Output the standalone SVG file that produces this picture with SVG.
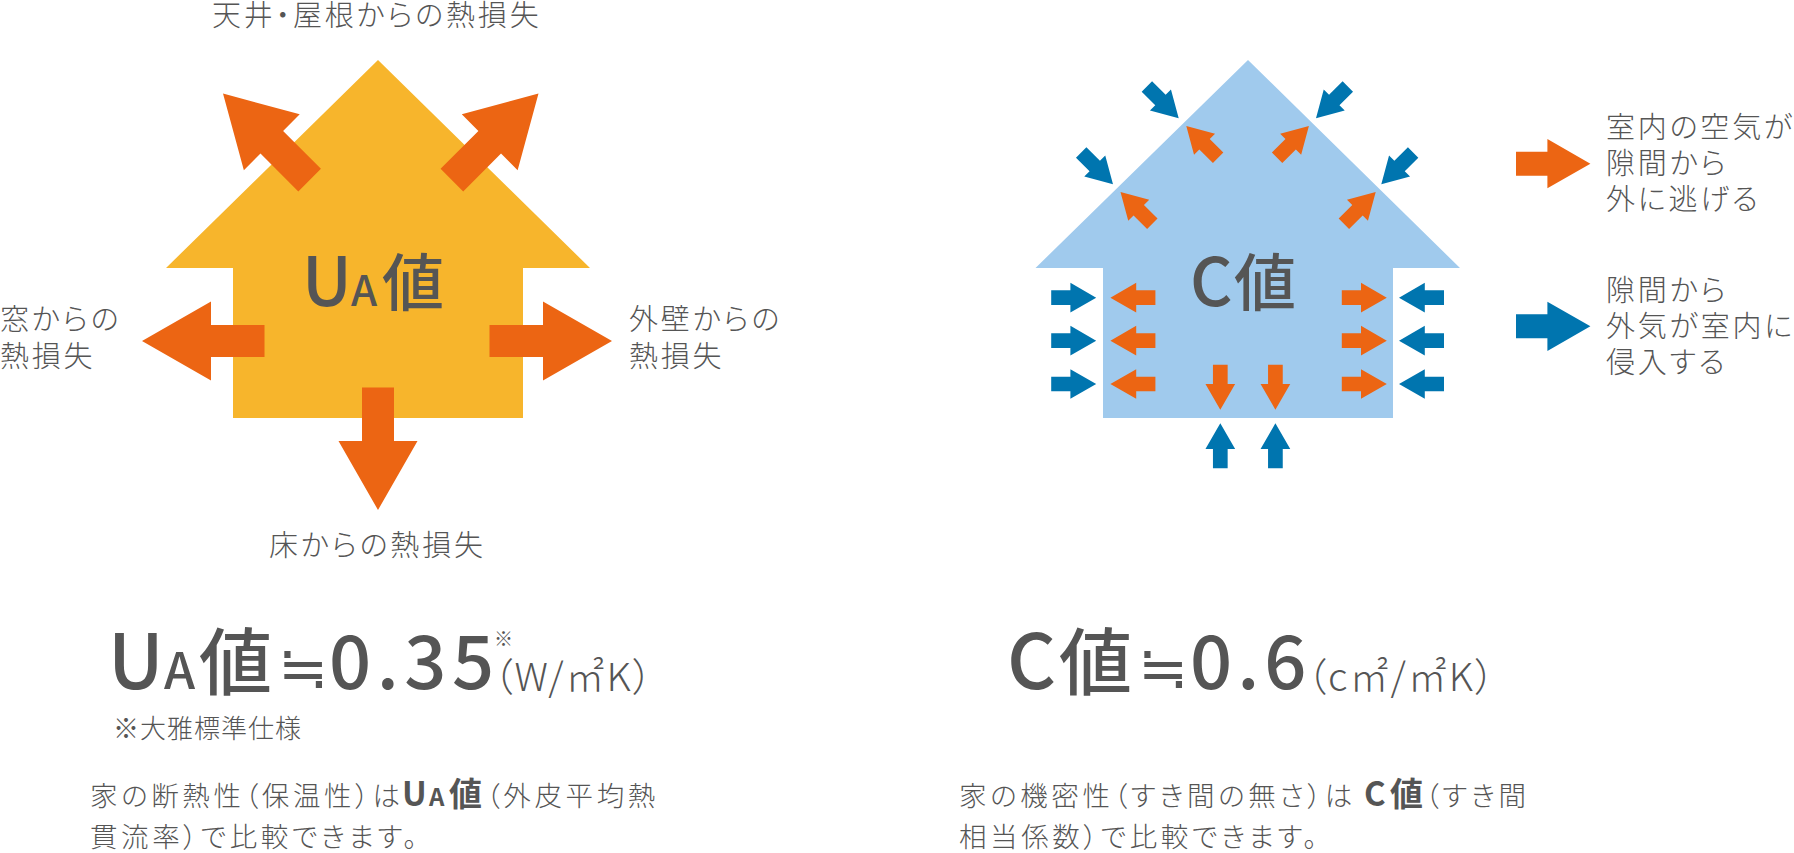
<svg xmlns="http://www.w3.org/2000/svg" width="1794" height="853" viewBox="0 0 1794 853">
<style>
text{font-family:"Noto Sans CJK JP","Noto Sans",sans-serif;fill:#555;font-feature-settings:"palt"}
.l{font-size:29px;font-weight:300;letter-spacing:2.8px}
.p{font-size:27.5px;font-weight:300;letter-spacing:3.6px}
.pb{font-size:33px;font-weight:700}
.m{font-weight:500}
.u{font-size:39px;font-weight:300;letter-spacing:2px}
.o{fill:#EC6513}.b{fill:#0075AF}
</style>
<defs>
<path id="big" d="M0 0L-69-39.5V-16H-122.5V16H-69V39.5Z"/>
<path id="sm" d="M0 0L-25.8-14.85V-7.35H-45V7.35H-25.8V14.85Z"/>
<path id="leg" d="M0 0L-43-24.65V-12H-74.4V12H-43V24.65Z"/>
</defs>
<rect width="1794" height="853" fill="#fff"/>
<g id="ua-house">
<path fill="#F7B52C" d="M378 60L590 268H523V418H233V268H166Z"/>
<text class="m" x="302" y="306" font-size="68">U</text><text class="m" x="351" y="306" font-size="42">A</text><text class="m" x="382" y="306" font-size="62">値</text>
</g>
<g id="c-house">
<path fill="#A0CAED" d="M1248 60L1460 268H1393V418H1103V268H1035.5Z"/>
<text class="m" x="1190" y="306" font-size="66">C</text><text class="m" x="1234" y="306" font-size="62">値</text>
</g>
<g id="connectors">
<use href="#big" class="o" transform="translate(223 93.5) rotate(-135)"/>
<use href="#big" class="o" transform="translate(538.5 93.5) rotate(-45)"/>
<use href="#big" class="o" transform="translate(142 341) rotate(180)"/>
<use href="#big" class="o" transform="translate(612 341)"/>
<use href="#big" class="o" transform="translate(378 510) rotate(90)"/>
<use href="#sm" class="b" transform="translate(1178.7 118.3) rotate(45)"/>
<use href="#sm" class="b" transform="translate(1316 118.3) rotate(135)"/>
<use href="#sm" class="b" transform="translate(1113 184.3) rotate(45)"/>
<use href="#sm" class="b" transform="translate(1381.3 184.3) rotate(135)"/>
<use href="#sm" class="o" transform="translate(1186.3 126) rotate(-135)"/>
<use href="#sm" class="o" transform="translate(1308.9 126) rotate(-45)"/>
<use href="#sm" class="o" transform="translate(1120.5 192) rotate(-135)"/>
<use href="#sm" class="o" transform="translate(1375.7 192) rotate(-45)"/>
<use href="#sm" class="b" transform="translate(1096.2 297.7)"/>
<use href="#sm" class="b" transform="translate(1096.2 340.7)"/>
<use href="#sm" class="b" transform="translate(1096.2 384)"/>
<use href="#sm" class="b" transform="translate(1399 297.7) rotate(180)"/>
<use href="#sm" class="b" transform="translate(1399 340.7) rotate(180)"/>
<use href="#sm" class="b" transform="translate(1399 384) rotate(180)"/>
<use href="#sm" class="o" transform="translate(1110.4 297.7) rotate(180)"/>
<use href="#sm" class="o" transform="translate(1110.4 340.7) rotate(180)"/>
<use href="#sm" class="o" transform="translate(1110.4 384) rotate(180)"/>
<use href="#sm" class="o" transform="translate(1386.8 297.7)"/>
<use href="#sm" class="o" transform="translate(1386.8 340.7)"/>
<use href="#sm" class="o" transform="translate(1386.8 384)"/>
<use href="#sm" class="o" transform="translate(1220.3 409.7) rotate(90)"/>
<use href="#sm" class="o" transform="translate(1275.4 409.7) rotate(90)"/>
<use href="#sm" class="b" transform="translate(1220.3 423.3) rotate(-90)"/>
<use href="#sm" class="b" transform="translate(1275.4 423.3) rotate(-90)"/>
<use href="#leg" class="o" transform="translate(1590.4 163.7)"/>
<use href="#leg" class="b" transform="translate(1590.4 326.3)"/>
</g>
<g id="labels">
<text class="l" x="212" y="25.5">天井・屋根からの熱損失</text>
<text class="l" x="0" y="330">窓からの</text><text class="l" x="0" y="367">熱損失</text>
<text class="l" x="629" y="330">外壁からの</text><text class="l" x="629" y="367">熱損失</text>
<text class="l" x="269" y="556">床からの熱損失</text>
</g>
<g id="legend">
<text class="l" x="1606" y="138">室内の空気が</text><text class="l" x="1606" y="174">隙間から</text><text class="l" x="1606" y="210">外に逃げる</text>
<text class="l" x="1606" y="301">隙間から</text><text class="l" x="1606" y="337">外気が室内に</text><text class="l" x="1606" y="373">侵入する</text>
</g>
<g id="ua-value">
<text class="m" x="108" y="689" font-size="76">U</text><text class="m" x="164" y="689" font-size="50">A</text><text class="m" x="199" y="689" font-size="73">値</text>
<text class="m" x="278" y="689" font-size="60">≒</text>
<text class="m" x="329" y="689" font-size="74" letter-spacing="5.5">0.35</text>
<text x="494" y="646" font-size="19">※</text>
<text class="u" x="493" y="691">（W/㎡K）</text>
<text x="113" y="738" font-size="26" letter-spacing="1" font-weight="300">※大雅標準仕様</text>
<text class="p" x="90" y="806">家の断熱性（保温性）は</text>
<text x="402" y="806" class="pb">U</text><text x="429" y="806" class="pb" style="font-size:24px">A</text><text x="449" y="806" class="pb">値</text>
<text class="p" x="486" y="806">（外皮平均熱</text>
<text class="p" x="90" y="847">貫流率）で比較できます。</text>
</g>
<g id="c-value">
<text class="m" x="1007" y="689" font-size="76">C</text><text class="m" x="1059" y="689" font-size="73">値</text>
<text class="m" x="1138" y="689" font-size="60">≒</text>
<text class="m" x="1190" y="689" font-size="74" letter-spacing="5">0.6</text>
<text class="u" x="1306.5" y="691">（c㎡/㎡K）</text>
<text class="p" x="959" y="806">家の機密性（すき間の無さ）は</text>
<text x="1364" y="806" class="pb">C</text><text x="1390" y="806" class="pb">値</text>
<text class="p" x="1425" y="806">（すき間</text>
<text class="p" x="959" y="847">相当係数）で比較できます。</text>
</g>
</svg>
